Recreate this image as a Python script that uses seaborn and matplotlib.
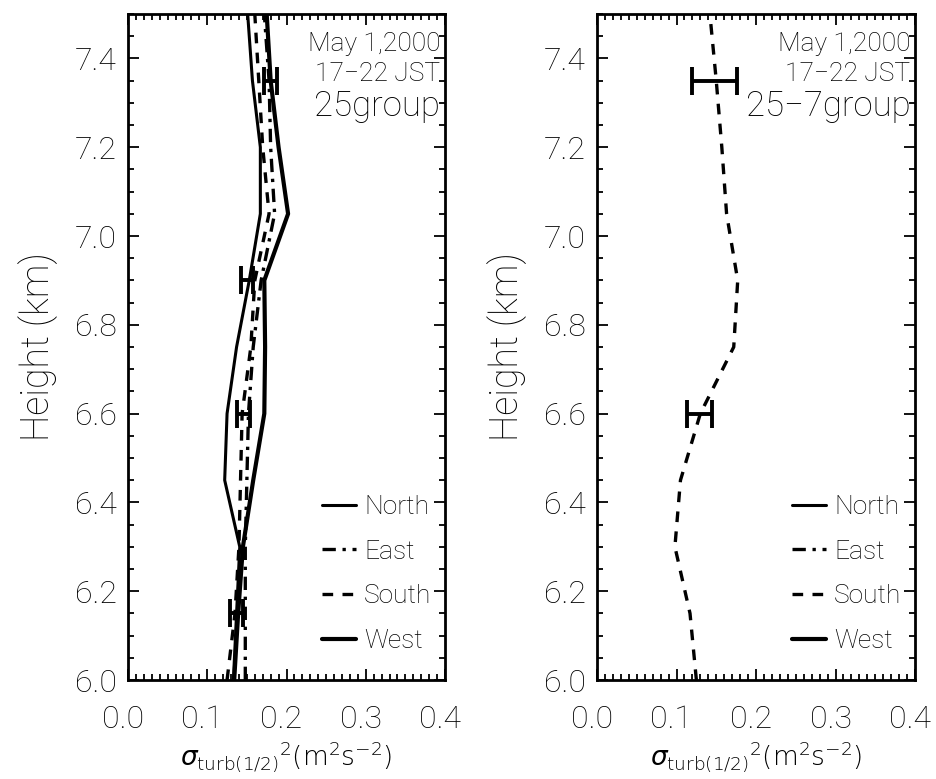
import numpy as np
import pandas as pd
import matplotlib
matplotlib.use("Agg")
import matplotlib.pyplot as plt
from matplotlib.ticker import MultipleLocator, FormatStrFormatter
from matplotlib.transforms import ScaledTranslation
import seaborn as sns

# heights (km) of the profile points
heights = [6.0, 6.15, 6.3, 6.45, 6.6, 6.75, 6.9, 7.05, 7.2, 7.35, 7.5]

# 25group, four beams
north = [0.133, 0.137, 0.141, 0.122, 0.125, 0.137, 0.153, 0.167, 0.167, 0.157, 0.151]
east = [0.148, 0.148, 0.148, 0.150, 0.152, 0.158, 0.168, 0.185, 0.180, 0.178, 0.172]
south = [0.125, 0.135, 0.140, 0.142, 0.144, 0.155, 0.160, 0.178, 0.170, 0.165, 0.160]
west = [0.134, 0.139, 0.145, 0.158, 0.172, 0.173, 0.172, 0.202, 0.190, 0.180, 0.175]

# 25-7group, south only
south_b = [0.125, 0.117, 0.098, 0.105, 0.130, 0.172, 0.177, 0.163, 0.157, 0.150, 0.142]

# error bars
err_h_a = [6.15, 6.6, 6.9, 7.35]
err_x_a = [0.137, 0.146, 0.150, 0.180]
err_w_a = [0.008, 0.008, 0.008, 0.008]
err_h_b = [6.6, 7.35]
err_x_b = [0.129, 0.148]
err_w_b = [0.016, 0.028]

sns.set_style("ticks")
plt.rcParams["font.family"] = ["Roboto", "DejaVu Sans"]
plt.rcParams["font.weight"] = "light"
plt.rcParams["axes.labelweight"] = "light"
plt.rcParams["text.color"] = "black"
plt.rcParams["axes.labelcolor"] = "black"
plt.rcParams["xtick.color"] = "black"
plt.rcParams["ytick.color"] = "black"
plt.rcParams["mathtext.fontset"] = "dejavusans"

fig = plt.figure(figsize=(9.36, 7.79), dpi=100)
ax1 = fig.add_axes([128 / 936, 99 / 779, 317 / 936, 666 / 779])
ax2 = fig.add_axes([597 / 936, 99 / 779, 318 / 936, 666 / 779])

styles = {
    "North": dict(ls="-", lw=2.2),
    "East": dict(ls=(0, (4, 2, 1, 2)), lw=2.4),
    "South": dict(ls=(0, (3.2, 2.8)), lw=2.4),
    "West": dict(ls="-", lw=3.0),
}

for name, vals in [("North", north), ("East", east), ("South", south), ("West", west)]:
    df = pd.DataFrame({"x": vals, "h": heights})
    sns.lineplot(data=df, x="x", y="h", sort=False, estimator=None, color="black",
                 linestyle=styles[name]["ls"], linewidth=styles[name]["lw"],
                 label=name, ax=ax1)

df_b = pd.DataFrame({"x": south_b, "h": heights})
sns.lineplot(data=df_b, x="x", y="h", sort=False, estimator=None, color="black",
             linestyle=styles["South"]["ls"], linewidth=styles["South"]["lw"], ax=ax2)

ax1.errorbar(err_x_a, err_h_a, xerr=err_w_a, fmt="none", ecolor="black",
             elinewidth=2.8, capsize=10, capthick=2.8)
ax2.errorbar(err_x_b, err_h_b, xerr=err_w_b, fmt="none", ecolor="black",
             elinewidth=2.8, capsize=10, capthick=2.8)

handles, labels = ax1.get_legend_handles_labels()
group_names = ["25group", "25\u22127group"]
shift = ScaledTranslation(-5 / 100, 0, fig.dpi_scale_trans)

for ax, grp in zip([ax1, ax2], group_names):
    ax.set_xlim(0, 0.4)
    ax.set_ylim(6.0, 7.5)
    ax.xaxis.set_major_locator(MultipleLocator(0.1))
    ax.xaxis.set_minor_locator(MultipleLocator(0.01))
    ax.yaxis.set_major_locator(MultipleLocator(0.2))
    ax.yaxis.set_minor_locator(MultipleLocator(0.05))
    ax.xaxis.set_major_formatter(FormatStrFormatter("%.1f"))
    ax.yaxis.set_major_formatter(FormatStrFormatter("%.1f"))
    ax.tick_params(which="both", direction="in", top=True, right=True, width=1.3,
                   labelsize=23)
    ax.tick_params(which="major", length=8)
    ax.tick_params(which="minor", length=4)
    ax.tick_params(axis="x", which="major", pad=18)
    ax.tick_params(axis="y", which="major", pad=8)
    for lab in ax.get_xticklabels():
        lab.set_transform(lab.get_transform() + shift)
    for sp in ax.spines.values():
        sp.set_linewidth(2)
        sp.set_color("black")
    ax.set_xlabel(r"$\sigma_{\mathrm{turb(1/2)}}{}^{2}(\mathrm{m}^{2}\mathrm{s}^{-2})$",
                  fontsize=19, labelpad=4)
    ax.set_ylabel("Height (km)", fontsize=27, labelpad=12)
    ax.text(0.985, 0.955, "May 1,2000", transform=ax.transAxes, ha="right",
            va="center", fontsize=19)
    ax.text(0.985, 0.91, "17\u221222 JST", transform=ax.transAxes, ha="right",
            va="center", fontsize=19)
    ax.text(0.985, 0.862, grp, transform=ax.transAxes, ha="right",
            va="center", fontsize=25)
    ax.legend(handles=handles, labels=labels, loc="lower right",
              bbox_to_anchor=(0.99, 0.025), frameon=False, fontsize=19,
              handlelength=1.3, handletextpad=0.3, labelspacing=0.78,
              borderaxespad=0)

fig.savefig("out.png", dpi=100)
